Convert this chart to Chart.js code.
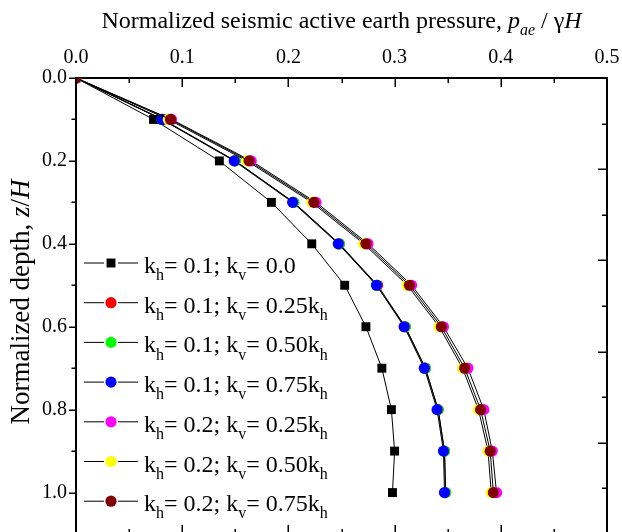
<!DOCTYPE html>
<html>
<head>
<meta charset="utf-8">
<script src="https://cdn.jsdelivr.net/npm/chart.js@4.4.0/dist/chart.umd.min.js"></script>
<style>
  html, body { margin: 0; padding: 0; background: #fff; overflow: hidden; }
  #wrap { width: 622px; height: 544px; }
</style>
</head>
<body>
<div id="wrap"><canvas id="pressureChart" width="622" height="544"></canvas></div>
<script>
// normalized depth z/H
const depth = [0, 0.1, 0.2, 0.3, 0.4, 0.5, 0.6, 0.7, 0.8, 0.9, 1.0];

// normalized seismic active earth pressure p_ae / gamma H
const kh01_kv000 = [0, 0.073, 0.135, 0.184, 0.222, 0.253, 0.273, 0.288, 0.297, 0.300, 0.298];
const kh01_kv025 = [0, 0.082, 0.150, 0.205, 0.248, 0.284, 0.310, 0.329, 0.341, 0.347, 0.348];
const kh01_kv050 = [0, 0.081, 0.150, 0.205, 0.248, 0.283, 0.310, 0.329, 0.341, 0.347, 0.348];
const kh01_kv075 = [0, 0.081, 0.149, 0.204, 0.247, 0.283, 0.309, 0.328, 0.340, 0.346, 0.347];
const kh02_kv025 = [0, 0.090, 0.165, 0.226, 0.275, 0.316, 0.346, 0.369, 0.384, 0.392, 0.396];
const kh02_kv050 = [0, 0.087, 0.161, 0.222, 0.271, 0.312, 0.342, 0.364, 0.379, 0.388, 0.391];
const kh02_kv075 = [0, 0.089, 0.163, 0.224, 0.273, 0.314, 0.344, 0.366, 0.381, 0.390, 0.393];

// "_x" = subscript x
const seriesLabels = [
    'k_h= 0.1; k_v= 0.0',
    'k_h= 0.1; k_v= 0.25k_h',
    'k_h= 0.1; k_v= 0.50k_h',
    'k_h= 0.1; k_v= 0.75k_h',
    'k_h= 0.2; k_v= 0.25k_h',
    'k_h= 0.2; k_v= 0.50k_h',
    'k_h= 0.2; k_v= 0.75k_h'
];
const markerColors = ['#000000', '#ff0000', '#00ff00', '#0000ff', '#ff00ff', '#ffff00', '#800000'];

const xTickValues = [0, 0.1, 0.2, 0.3, 0.4, 0.5];
const yTickValues = [0, 0.2, 0.4, 0.6, 0.8, 1.0];

const FONT = '"Liberation Serif", "Times New Roman", serif';

function fontFor(p, size) {
    const s = p.sub ? Math.round(size * 0.66) : size;
    return (p.it ? 'italic ' : '') + s + 'px ' + FONT;
}
function richWidth(ctx, parts, size) {
    let w = 0;
    parts.forEach(p => { ctx.font = fontFor(p, size); w += ctx.measureText(p.t).width; });
    return w;
}
function drawRich(ctx, parts, x, y, size) {
    parts.forEach(p => {
        ctx.font = fontFor(p, size);
        ctx.fillText(p.t, x, y + (p.sub ? size * 0.3 : 0));
        x += ctx.measureText(p.t).width;
    });
}
function parseLabel(s) {
    // split "k_h= 0.1" into plain / subscript pieces
    const parts = [];
    s.split(/_(\w)/).forEach((t, i) => { if (t) parts.push({ t: t, sub: i % 2 === 1 }); });
    return parts;
}
// no extra room for overhanging tick labels, keep the plot box fixed
function noPad(s) {
    s.paddingLeft = 0; s.paddingRight = 0; s.paddingTop = 0; s.paddingBottom = 0;
}

// ticks on all four sides (major / minor), Origin style
const frameTicks = {
    id: 'frameTicks',
    afterDraw(chart) {
        const { ctx, chartArea: a, scales } = chart;
        ctx.save();
        ctx.strokeStyle = '#000';
        ctx.lineWidth = 1.5;
        ctx.beginPath();
        for (let i = 0; i <= 10; i++) {
            const px = Math.round(scales.x.getPixelForValue(i * 0.05)) + 0.25;
            const len = i % 2 ? 5 : 9;
            ctx.moveTo(px, a.top); ctx.lineTo(px, a.top + len);
            ctx.moveTo(px, a.bottom); ctx.lineTo(px, a.bottom - len);
        }
        for (let i = 0; i <= 11; i++) {
            const py = Math.round(scales.y.getPixelForValue(i * 0.1)) + 0.25;
            const len = i % 2 ? 4.5 : 7;
            ctx.moveTo(a.left, py); ctx.lineTo(a.left - len, py);
        }
        for (let i = 0; i <= 10; i++) {
            const py = Math.round(scales.y2.getPixelForValue(i * 0.1)) + 0.25;
            const len = i % 2 ? 5 : 9;
            ctx.moveTo(a.right, py); ctx.lineTo(a.right - len, py);
        }
        ctx.stroke();
        ctx.restore();
    }
};

// axis titles and legend with italics / subscripts
const richText = {
    id: 'richText',
    afterDraw(chart) {
        const { ctx, chartArea: a } = chart;
        ctx.save();
        ctx.fillStyle = '#000';
        ctx.textBaseline = 'alphabetic';
        ctx.textAlign = 'left';

        const topTitle = [
            { t: 'Normalized seismic active earth pressure, ' },
            { t: 'p', it: true }, { t: 'ae', it: true, sub: true },
            { t: ' / ' }, { t: 'γ' }, { t: 'H', it: true }
        ];
        const tw = richWidth(ctx, topTitle, 24);
        drawRich(ctx, topTitle, (a.left + a.right) / 2 - tw / 2, 28, 24);

        const sideTitle = [
            { t: 'Normalized depth, ' }, { t: 'z', it: true }, { t: '/' }, { t: 'H', it: true }
        ];
        const sw = richWidth(ctx, sideTitle, 27);
        ctx.save();
        ctx.translate(29, 302);
        ctx.rotate(-Math.PI / 2);
        drawRich(ctx, sideTitle, -sw / 2, 0, 27);
        ctx.restore();

        // legend
        chart.data.datasets.forEach((ds, i) => {
            const y = 263 + i * 39.7;
            ctx.strokeStyle = '#000';
            ctx.lineWidth = 1;
            ctx.beginPath();
            ctx.moveTo(84, y); ctx.lineTo(104, y);
            ctx.moveTo(118, y); ctx.lineTo(138, y);
            ctx.stroke();
            ctx.fillStyle = ds.pointBackgroundColor;
            Chart.helpers.drawPoint(ctx, {
                pointStyle: ds.pointStyle, radius: ds.pointRadius, rotation: 0, borderWidth: 0
            }, 111, y);
            ctx.fillStyle = '#000';
            drawRich(ctx, parseLabel(ds.label), 144, y + 10, 24);
        });
        ctx.restore();
    }
};

const allSeries = [kh01_kv000, kh01_kv025, kh01_kv050, kh01_kv075, kh02_kv025, kh02_kv050, kh02_kv075];
const drawOrder = [6, 5, 4, 3, 2, 1, 0];

const datasets = allSeries.map((vals, i) => ({
    label: seriesLabels[i],
    data: depth.map((d, j) => ({ x: vals[j], y: d })),
    showLine: true,
    borderColor: '#000',
    borderWidth: 1,
    pointStyle: i === 0 ? 'rect' : 'circle',
    pointRadius: i === 0 ? 6.3 : 5.6,
    pointBackgroundColor: markerColors[i],
    pointBorderColor: markerColors[i],
    pointBorderWidth: 0,
    order: drawOrder[i]
}));

const ctx = document.getElementById('pressureChart').getContext('2d');
new Chart(ctx, {
    type: 'scatter',
    data: { datasets: datasets },
    options: {
        responsive: false,
        animation: false,
        events: [],
        layout: { padding: 0 },
        plugins: {
            legend: { display: false },
            tooltip: { enabled: false }
        },
        scales: {
            x: {
                type: 'linear',
                position: 'top',
                min: 0,
                max: 0.5,
                afterBuildTicks: s => { s.ticks = xTickValues.map(v => ({ value: v })); },
                afterFit: s => { s.height = 78; noPad(s); },
                ticks: {
                    callback: v => v.toFixed(1),
                    color: '#000',
                    font: { family: FONT, size: 20 },
                    padding: 8,
                    maxRotation: 0
                },
                grid: { drawOnChartArea: false, drawTicks: false },
                border: { display: true, color: '#000', width: 2 }
            },
            x2: {
                type: 'linear',
                position: 'bottom',
                min: 0,
                max: 0.5,
                afterFit: s => { s.height = 10; noPad(s); },
                ticks: { display: false },
                grid: { drawOnChartArea: false, drawTicks: false },
                border: { display: true, color: '#000', width: 2 }
            },
            y: {
                type: 'linear',
                position: 'left',
                reverse: true,
                min: 0,
                max: 1.1,
                afterBuildTicks: s => { s.ticks = yTickValues.map(v => ({ value: v })); },
                afterFit: s => { s.width = 76; noPad(s); },
                ticks: {
                    callback: v => v.toFixed(1),
                    color: '#000',
                    font: { family: FONT, size: 20 },
                    padding: 9
                },
                grid: { drawOnChartArea: false, drawTicks: false },
                border: { display: true, color: '#000', width: 2 }
            },
            y2: {
                type: 'linear',
                position: 'right',
                reverse: true,
                min: 0,
                max: 1.0,
                afterFit: s => { s.width = 15; noPad(s); },
                ticks: { display: false },
                grid: { drawOnChartArea: false, drawTicks: false },
                border: { display: true, color: '#000', width: 2 }
            }
        }
    },
    plugins: [frameTicks, richText]
});
</script>
</body>
</html>
